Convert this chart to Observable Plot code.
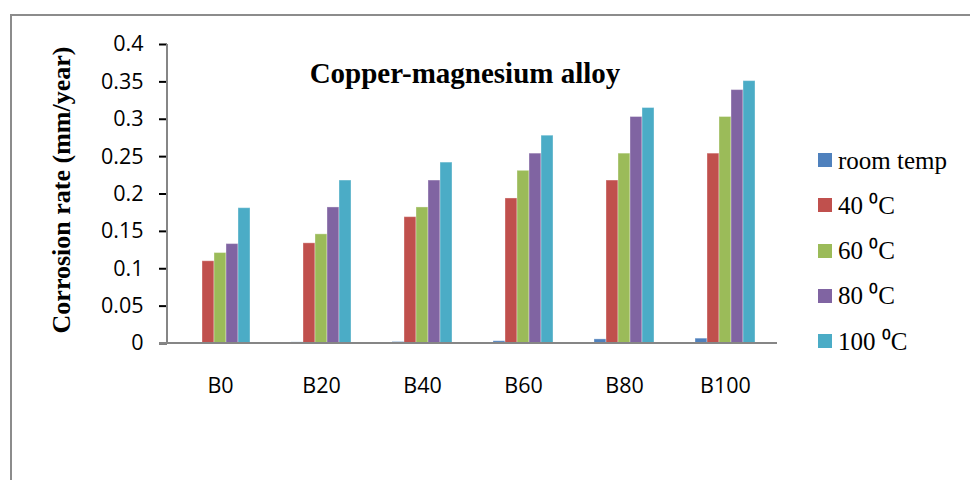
<!DOCTYPE html>
<html>
<head>
<meta charset="utf-8">
<script src="https://cdn.jsdelivr.net/npm/d3@7"></script>
<script src="https://cdn.jsdelivr.net/npm/@observablehq/plot@0.6"></script>
<style>
  html, body { margin: 0; padding: 0; background: #fff; }
  #wrap { position: relative; width: 970px; height: 480px; overflow: hidden; background: #fff; }
  #border { position: absolute; left: 10px; top: 14px; width: 980px; height: 490px;
            border-top: 2px solid #8c8c8c; border-left: 2px solid #8c8c8c; box-sizing: border-box; }
  #chart { position: absolute; left: 0; top: 0; }
  #title { position: absolute; left: 0; width: 930px; top: 59px; text-align: center;
           font: bold 29px/29px "Liberation Serif", "Times New Roman", serif; color: #000; white-space: nowrap; }
  #ylabel { position: absolute; left: 62px; top: 190px; transform: translate(-50%, -50%) rotate(-90deg);
            font: bold 26px/26px "Liberation Serif", "Times New Roman", serif; color: #000; white-space: nowrap; }
  #legend { position: absolute; left: 818px; top: 137.5px; font: 25px/25px "Liberation Serif", "Times New Roman", serif; color: #000; }
  .lrow { display: flex; align-items: center; height: 45.25px; white-space: nowrap; }
  .lsw { width: 14px; height: 14px; margin-right: 6px; flex: none; }
</style>
</head>
<body>
<div id="wrap">
  <div id="border"></div>
  <div id="chart"></div>
  <div id="title"></div>
  <div id="ylabel"></div>
  <div id="legend"></div>
</div>
<script>
const titleText = "Copper-magnesium alloy";
const yLabel = "Corrosion rate (mm/year)";
const categories = ["B0", "B20", "B40", "B60", "B80", "B100"];
const series = ["room temp", "40 \u2070C", "60 \u2070C", "80 \u2070C", "100 \u2070C"];
const colors = ["#4F81BD", "#C0504D", "#9BBB59", "#8064A2", "#4BACC6"];
const roomTemp = [0.0003, 0.0015, 0.002, 0.003, 0.0055, 0.0065];
const t40 = [0.110, 0.134, 0.169, 0.194, 0.218, 0.254];
const t60 = [0.121, 0.146, 0.182, 0.231, 0.254, 0.303];
const t80 = [0.133, 0.182, 0.218, 0.254, 0.303, 0.339];
const t100 = [0.181, 0.218, 0.242, 0.278, 0.315, 0.351];
const yTicks = [0, 0.05, 0.1, 0.15, 0.2, 0.25, 0.3, 0.35, 0.4];

const seriesValues = [roomTemp, t40, t60, t80, t100];
const data = [];
categories.forEach((c, i) => {
  series.forEach((s, j) => data.push({cat: c, series: s, value: seriesValues[j][i]}));
});

const chart = Plot.plot({
  width: 970,
  height: 480,
  marginLeft: 167,
  marginRight: 193,
  marginTop: 44,
  marginBottom: 137,
  style: {fontFamily: "'Open Sans', sans-serif", fontSize: "21.5px", color: "#000", background: "transparent", overflow: "visible"},
  fx: {domain: categories, paddingInner: 0.39, paddingOuter: 0.195, label: null, axis: "bottom", tickSize: 0, tickPadding: 34},
  x: {domain: series, padding: 0, axis: null},
  y: {domain: [0, 0.4], ticks: yTicks, tickFormat: d => String(+d.toFixed(2)), tickSize: 8, tickPadding: 16, label: null},
  color: {domain: series, range: colors},
  marks: [
    Plot.barY(data, {fx: "cat", x: "series", y: "value", fill: "series", stroke: "#fff", strokeOpacity: 0.35, strokeWidth: 1})
  ]
});
document.getElementById("chart").appendChild(chart);

// axis lines & tick placement, from the library's scales
const ys = chart.scale("y");
const fxs = chart.scale("fx");
const svg = d3.select(chart);
const xL = fxs.range[0], xR = fxs.range[1];
const shift = fxs.apply(categories[0]) - xL; // y axis is anchored to first facet; move it to the plot edge
svg.selectAll('g[aria-label^="y-axis"]').each(function () {
  const t = this.getAttribute("transform") || "";
  this.setAttribute("transform", `translate(${-shift},0) ${t}`);
});
svg.selectAll('g[aria-label="y-axis tick"]').attr("stroke", "#868686").attr("stroke-width", 2);
const y0 = ys.apply(0), yTop = ys.apply(0.4);
svg.append("line").attr("x1", xL).attr("x2", xL).attr("y1", yTop).attr("y2", y0)
  .attr("stroke", "#868686").attr("stroke-width", 2);
svg.append("line").attr("x1", xL - 8).attr("x2", xR).attr("y1", y0).attr("y2", y0)
  .attr("stroke", "#868686").attr("stroke-width", 2);

document.getElementById("title").textContent = titleText;
document.getElementById("ylabel").textContent = yLabel;

const legend = d3.select("#legend");
series.forEach((s, j) => {
  const row = legend.append("div").attr("class", "lrow");
  row.append("div").attr("class", "lsw").style("background", colors[j]);
  row.append("span").text(s);
});
</script>
</body>
</html>
